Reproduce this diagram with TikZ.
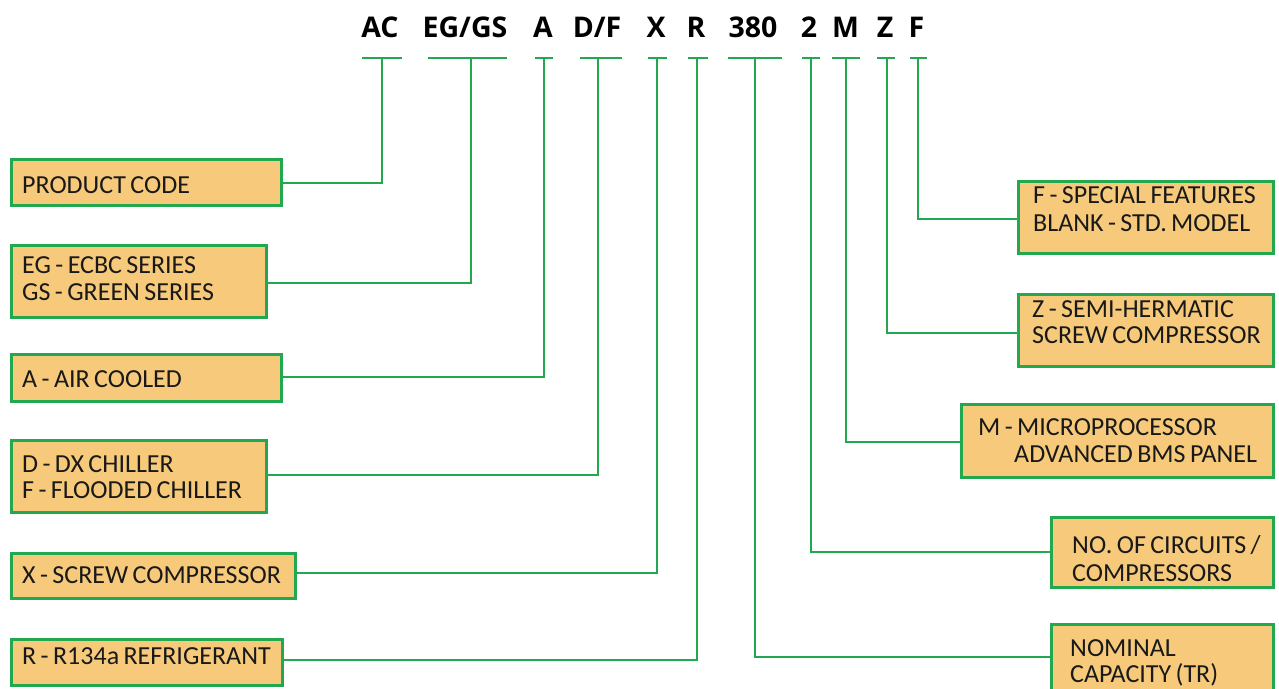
\documentclass[tikz,border=0pt]{standalone}
\usepackage{fontspec}
\setmainfont{Carlito}
\newfontfamily\headfont{Open Sans}
\definecolor{boxfill}{HTML}{F6CA7A}
\definecolor{lgreen}{HTML}{22A84E}
\newcommand\tightspace{\spaceskip=0.17em\relax}
\begin{document}
\begin{tikzpicture}[x=1pt,y=-1pt,
  infobox/.style={draw=lgreen, line width=3pt, fill=boxfill, anchor=north west, inner sep=0pt},
  btxt/.style={anchor=base west, inner sep=0pt, font=\fontsize{26}{28}\selectfont, execute at begin node=\tightspace, text=black!90},
  conn/.style={draw=lgreen, line width=2.6pt},
  head/.style={anchor=base, font=\headfont\bfseries\fontsize{28.5}{30}\selectfont, inner sep=0pt}]
\useasboundingbox (0,0) rectangle (1279,688);
\fill[white] (0,0) rectangle (1279,688);
% header
\node[head] (hAC) at (380,37) {AC};
\node[head] (hEG) at (465,37) {EG/GS};
\node[head] (hA) at (543,37) {A};
\node[head] (hDF) at (597,37) {D/F};
\node[head] (hX) at (656,37) {X};
\node[head] (hR) at (696,37) {R};
\node[head] (hCap) at (753,37) {380};
\node[head] (h2) at (809,37) {2};
\node[head] (hM) at (845.5,37) {M};
\node[head] (hZ) at (885,37) {Z};
\node[head] (hF) at (916.5,37) {F};
% bars and stem tops
\coordinate (sAC) at (382,58); \draw[conn] (362,58) -- (402,58);
\coordinate (sEG) at (471,58); \draw[conn] (428,58) -- (507,58);
\coordinate (sA) at (544,58); \draw[conn] (535,58) -- (553,58);
\coordinate (sDF) at (598,58); \draw[conn] (580,58) -- (622,58);
\coordinate (sX) at (657,58); \draw[conn] (648,58) -- (667,58);
\coordinate (sR) at (697,58); \draw[conn] (688,58) -- (708,58);
\coordinate (sCap) at (755,58); \draw[conn] (728,58) -- (782,58);
\coordinate (s2) at (811,58); \draw[conn] (802,58) -- (820,58);
\coordinate (sM) at (846,58); \draw[conn] (832,58) -- (860,58);
\coordinate (sZ) at (887,58); \draw[conn] (877,58) -- (895,58);
\coordinate (sF) at (918,58); \draw[conn] (910,58) -- (927,58);
% left boxes
\node[infobox, minimum width=270pt, minimum height=46pt] (pc) at (10,158) {};
\node[btxt] (pc1) at (22,193) {PRODUCT CODE};
\node[infobox, minimum width=255pt, minimum height=72pt] (eg) at (10,244) {};
\node[btxt] (eg1) at (22,273) {EG - ECBC SERIES};
\node[btxt] (eg2) at (22,300) {GS - GREEN SERIES};
\node[infobox, minimum width=270pt, minimum height=47pt] (ac) at (10,353) {};
\node[btxt] (ac1) at (22,387) {A - AIR COOLED};
\node[infobox, minimum width=255pt, minimum height=72pt] (df) at (10,439) {};
\node[btxt] (df1) at (22,472) {D - DX CHILLER};
\node[btxt] (df2) at (22,498) {F - FLOODED CHILLER};
\node[infobox, minimum width=284pt, minimum height=45pt] (sc) at (10,552) {};
\node[btxt] (sc1) at (22,583) {X - SCREW COMPRESSOR};
\node[infobox, minimum width=271pt, minimum height=46pt] (rf) at (10,638) {};
\node[btxt] (rf1) at (22,664) {R - R134a REFRIGERANT};
% right boxes
\node[infobox, minimum width=255pt, minimum height=72pt] (sf) at (1017,180) {};
\node[btxt] (sf1) at (1033,203) {F - SPECIAL FEATURES};
\node[btxt] (sf2) at (1033,231) {BLANK - STD. MODEL};
\node[infobox, minimum width=255pt, minimum height=72pt] (sh) at (1017,293) {};
\node[btxt] (sh1) at (1032,317) {Z - SEMI-HERMATIC};
\node[btxt] (sh2) at (1032,343) {SCREW COMPRESSOR};
\node[infobox, minimum width=312pt, minimum height=73pt] (mp) at (960,403) {};
\node[btxt] (mp1) at (978,435) {M - MICROPROCESSOR};
\node[btxt] (mp2) at (1014,462) {ADVANCED BMS PANEL};
\node[infobox, minimum width=222pt, minimum height=70pt] (nc) at (1050,516) {};
\node[btxt] (nc1) at (1072,553) {NO. OF CIRCUITS /};
\node[btxt] (nc2) at (1072,581) {COMPRESSORS};
\node[infobox, minimum width=222pt, minimum height=70pt] (nm) at (1050,623) {};
\node[btxt] (nm1) at (1070,656) {NOMINAL};
\node[btxt] (nm2) at (1070,682) {CAPACITY (TR)};
% connectors
\draw[conn] (pc.east |- 0,183) -| (sAC);
\draw[conn] (eg.east |- 0,283) -| (sEG);
\draw[conn] (ac.east |- 0,377) -| (sA);
\draw[conn] (df.east |- 0,475) -| (sDF);
\draw[conn] (sc.east |- 0,573) -| (sX);
\draw[conn] (rf.east |- 0,660) -| (sR);
\draw[conn] (sf.west |- 0,219) -| (sF);
\draw[conn] (sh.west |- 0,333) -| (sZ);
\draw[conn] (mp.west |- 0,442) -| (sM);
\draw[conn] (nc.west |- 0,552) -| (s2);
\draw[conn] (nm.west |- 0,657) -| (sCap);
\end{tikzpicture}
\end{document}
